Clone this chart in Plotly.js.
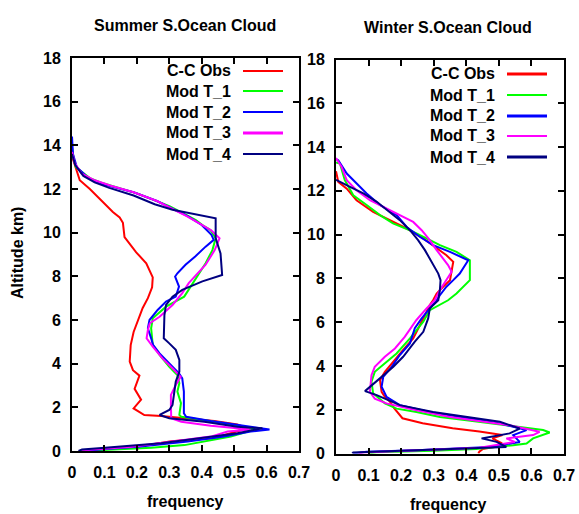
<!DOCTYPE html>
<html>
<head>
<meta charset="utf-8">
<script src="https://cdn.plot.ly/plotly-3.0.1.min.js"></script>
<style>html,body{margin:0;padding:0;background:#fff;}#chart{width:579px;height:514px;}</style>
</head>
<body>
<div id="chart"></div>
<script>
// ---------- DATA ----------
const seriesNames = ["C-C Obs", "Mod T_1", "Mod T_2", "Mod T_3", "Mod T_4"];
const seriesColors = ["#ff0000", "#00ff00", "#0000ff", "#ff00ff", "#000080"];
const panelTitles = ["Summer S.Ocean Cloud", "Winter S.Ocean Cloud"];
const xTickVals = [0, 0.1, 0.2, 0.3, 0.4, 0.5, 0.6, 0.7];
const xTickText = ["0", "0.1", "0.2", "0.3", "0.4", "0.5", "0.6", "0.7"];
const yTickVals = [0, 2, 4, 6, 8, 10, 12, 14, 16, 18];
const yTickText = ["0", "2", "4", "6", "8", "10", "12", "14", "16", "18"];
const xTitle = "frequency";
const yTitle = "Altitude km)";

// Summer (left panel)
const summerObsAlt  = [13.5,12.9,12.4,12.0,11.4,10.95,10.7,10.45,9.8,9.6,9.1,8.6,8.15,7.95,7.5,7.0,6.55,6.0,5.45,4.85,4.1,3.7,3.45,2.85,2.35,1.95,1.65,1.6,1.37,1.22,1.04,0.6,0.45,0.2,0];
const summerObsFreq = [0.0,0.014,0.024,0.055,0.096,0.126,0.147,0.157,0.162,0.172,0.198,0.229,0.244,0.249,0.247,0.234,0.218,0.203,0.19,0.181,0.178,0.188,0.208,0.193,0.213,0.19,0.223,0.275,0.439,0.51,0.541,0.439,0.306,0.204,0.2];

const summerT1Alt  = [13.9,13.4,13.0,12.5,12.26,12.03,11.8,11.5,11.2,10.81,10.58,10.35,10.12,9.74,9.2,8.6,8.0,7.53,7.07,6.61,6.08,5.62,4.86,4.4,3.86,3.48,3.1,2.72,2.19,1.65,1.57,1.27,1.0,0.66,0.27,0.15,0.07,0];
const summerT1Freq = [0.0,0.005,0.012,0.055,0.096,0.147,0.2,0.252,0.302,0.352,0.382,0.402,0.427,0.443,0.433,0.412,0.387,0.366,0.346,0.29,0.249,0.244,0.249,0.27,0.3,0.325,0.331,0.325,0.336,0.331,0.337,0.469,0.566,0.49,0.347,0.245,0.112,0.03];

const summerT2Alt  = [14.4,13.6,13.0,12.5,12.2,11.85,11.45,11.05,10.75,10.35,9.9,9.67,9.36,8.91,8.53,8.14,7.99,7.53,7.07,6.84,6.46,6.0,5.62,5.16,4.86,4.47,4.01,3.56,3.33,2.72,1.73,1.57,1.37,1.19,0.99,0.89,0.66,0.43,0.2,0.09,0];
const summerT2Freq = [0.0,0.003,0.015,0.05,0.1,0.19,0.262,0.318,0.358,0.40,0.43,0.437,0.412,0.38,0.35,0.325,0.318,0.33,0.32,0.29,0.264,0.239,0.234,0.244,0.25,0.27,0.3,0.33,0.34,0.345,0.345,0.352,0.428,0.51,0.609,0.551,0.469,0.357,0.204,0.102,0.036];

const summerT3Alt  = [13.7,13.2,12.7,12.4,12.15,11.85,11.45,11.1,10.75,10.45,10.1,9.74,9.2,8.53,8.07,7.69,7.23,6.69,6.15,5.85,5.54,5.16,4.78,4.24,3.79,3.4,3.02,2.57,2.11,1.8,1.5,1.34,1.16,0.99,0.89,0.66,0.43,0.2,0.05,0];
const summerT3Freq = [0.0,0.008,0.03,0.07,0.12,0.19,0.262,0.31,0.355,0.39,0.43,0.455,0.44,0.412,0.382,0.36,0.34,0.31,0.27,0.24,0.234,0.23,0.249,0.279,0.31,0.335,0.32,0.305,0.305,0.305,0.306,0.337,0.428,0.551,0.48,0.428,0.306,0.184,0.041,0.03];

const summerT4Alt  = [13.6,13.1,12.6,12.3,12.05,11.7,11.3,11.05,10.66,9.75,9.05,8.06,7.77,7.38,7.07,6.69,6.23,5.16,4.93,4.63,4.17,3.63,3.18,2.57,2.11,1.88,1.65,1.5,1.34,1.11,1.04,0.81,0.58,0.35,0.15,0.07,0];
const summerT4Freq = [0.0,0.01,0.035,0.07,0.115,0.19,0.255,0.31,0.443,0.443,0.458,0.463,0.402,0.34,0.31,0.29,0.285,0.283,0.3,0.32,0.331,0.331,0.32,0.315,0.31,0.3,0.27,0.3,0.408,0.51,0.587,0.51,0.388,0.275,0.102,0.031,0.02];

// Winter (right panel)
const winterObsAlt  = [12.9,12.41,12.1,11.57,11.04,10.66,10.28,9.83,9.52,9.06,8.76,8.3,7.92,7.62,7.31,7.0,6.78,6.17,5.26,4.73,4.19,3.73,3.35,2.82,2.59,2.36,2.06,1.61,1.38,1.15,1.0,0.84,0.69,0.46,0.31,0.2,0.08,0];
const winterObsFreq = [0.0,0.007,0.033,0.063,0.114,0.165,0.217,0.268,0.298,0.339,0.36,0.355,0.35,0.329,0.309,0.298,0.288,0.268,0.237,0.206,0.176,0.15,0.135,0.14,0.15,0.166,0.179,0.204,0.266,0.358,0.44,0.511,0.48,0.51,0.49,0.45,0.44,0.437];

const winterT1Alt  = [13.3,13.25,12.49,11.8,11.35,10.89,10.51,10.2,9.83,9.52,9.21,8.83,7.92,7.62,7.31,7.0,6.55,6.02,5.26,4.57,4.12,3.73,3.28,2.75,2.29,2.05,1.9,1.67,1.52,1.37,1.22,1.07,0.96,0.84,0.69,0.46,0.38,0.2,0.12,0.06,0];
const winterT1Freq = [0.0,0.012,0.027,0.053,0.094,0.135,0.175,0.227,0.278,0.319,0.37,0.411,0.411,0.39,0.37,0.344,0.288,0.268,0.227,0.186,0.15,0.119,0.109,0.114,0.15,0.186,0.247,0.319,0.401,0.482,0.564,0.636,0.656,0.636,0.605,0.585,0.544,0.431,0.298,0.125,0.1];

const winterT2Alt  = [13.45,13.4,12.79,12.34,11.88,11.35,10.89,10.35,9.9,9.52,9.21,8.83,8.22,7.92,7.62,7.23,7.0,6.63,6.17,5.72,5.03,4.5,3.96,3.5,3.05,2.59,2.21,1.9,1.63,1.37,1.07,0.84,0.53,0.3,0.15,0.08,0];
const winterT2Freq = [0.0,0.007,0.033,0.063,0.094,0.135,0.186,0.217,0.257,0.298,0.35,0.406,0.38,0.36,0.339,0.319,0.309,0.288,0.263,0.242,0.227,0.196,0.171,0.145,0.14,0.155,0.196,0.288,0.401,0.503,0.585,0.544,0.564,0.472,0.247,0.094,0.053];

const winterT3Alt  = [13.5,13.1,12.49,12.03,11.57,11.19,10.89,10.58,10.2,9.75,9.29,8.91,8.61,8.3,7.92,7.47,7.0,6.63,6.1,5.33,4.8,4.42,3.96,3.58,2.82,2.51,2.29,1.98,1.67,1.45,1.29,0.99,0.84,0.69,0.53,0.26,0.12,0.04,0];
const winterT3Freq = [0.0,0.017,0.033,0.063,0.104,0.155,0.196,0.237,0.263,0.288,0.309,0.329,0.344,0.355,0.339,0.319,0.303,0.278,0.247,0.211,0.181,0.15,0.119,0.109,0.104,0.119,0.155,0.247,0.35,0.452,0.533,0.625,0.605,0.523,0.549,0.441,0.196,0.084,0.07];

const winterT4Alt  = [12.5,12.49,12.18,11.88,11.5,11.04,10.66,10.2,9.75,9.29,8.76,8.22,7.92,7.47,7.0,6.63,6.17,5.56,5.11,4.42,3.96,3.43,3.13,2.85,2.67,2.44,2.21,1.9,1.67,1.45,1.14,0.92,0.69,0.53,0.3,0.1,0.05,0];
const winterT4Freq = [0.0,0.002,0.043,0.084,0.125,0.165,0.196,0.227,0.252,0.273,0.293,0.314,0.321,0.319,0.314,0.288,0.283,0.268,0.242,0.206,0.176,0.135,0.114,0.089,0.125,0.16,0.196,0.298,0.401,0.503,0.564,0.533,0.447,0.493,0.523,0.094,0.053,0.05];

// ---------- BUILD ----------
const W = 579, H = 514;
const px = v => v / W;
const py = v => 1 - v / H;

const summerSeries = [
  [summerObsFreq, summerObsAlt], [summerT1Freq, summerT1Alt], [summerT2Freq, summerT2Alt],
  [summerT3Freq, summerT3Alt], [summerT4Freq, summerT4Alt]
];
const winterSeries = [
  [winterObsFreq, winterObsAlt], [winterT1Freq, winterT1Alt], [winterT2Freq, winterT2Alt],
  [winterT3Freq, winterT3Alt], [winterT4Freq, winterT4Alt]
];

const traces = [];
// draw order: models first then obs? keep obs drawn below models like reference
[summerSeries, winterSeries].forEach((set, p) => {
  set.forEach((s, i) => {
    traces.push({
      x: s[0], y: s[1], type: 'scatter', mode: 'lines',
      name: seriesNames[i], showlegend: false,
      line: {color: seriesColors[i], width: 2},
      xaxis: p === 0 ? 'x' : 'x2', yaxis: p === 0 ? 'y' : 'y2'
    });
  });
});

const font = {family: 'Liberation Sans, Arial, sans-serif', size: 16, color: '#000', weight: 700};

function axisX(domain) {
  return {
    domain: domain, range: [0, 0.7], tickvals: xTickVals, ticktext: xTickText,
    showline: true, linecolor: '#000', linewidth: 2, mirror: 'ticks',
    ticks: 'inside', ticklen: 6, tickwidth: 2, tickcolor: '#000',
    showgrid: false, zeroline: false, tickfont: font, ticklabelstandoff: 6, fixedrange: true
  };
}
function axisY(domain) {
  return {
    domain: domain, range: [0, 18], tickvals: yTickVals, ticktext: yTickText,
    showline: true, linecolor: '#000', linewidth: 2, mirror: 'ticks',
    ticks: 'inside', ticklen: 6, tickwidth: 2, tickcolor: '#000',
    showgrid: false, zeroline: false, tickfont: font, ticklabelstandoff: 6, fixedrange: true
  };
}

const annotations = [];
const shapes = [];
// titles
annotations.push({text: panelTitles[0], x: px(185), y: py(25), xref: 'paper', yref: 'paper', xanchor: 'center', yanchor: 'middle', showarrow: false, font: font});
annotations.push({text: panelTitles[1], x: px(448), y: py(27), xref: 'paper', yref: 'paper', xanchor: 'center', yanchor: 'middle', showarrow: false, font: font});
// axis titles
annotations.push({text: xTitle, x: px(185), y: py(501), xref: 'paper', yref: 'paper', xanchor: 'center', yanchor: 'middle', showarrow: false, font: font});
annotations.push({text: xTitle, x: px(448), y: py(504), xref: 'paper', yref: 'paper', xanchor: 'center', yanchor: 'middle', showarrow: false, font: font});
annotations.push({text: yTitle, x: px(17), y: py(253), xref: 'paper', yref: 'paper', xanchor: 'center', yanchor: 'middle', textangle: -90, showarrow: false, font: font});

// legends (text to the left of a line sample)
const legendPanels = [
  {textRight: 233, lineX0: 243, lineX1: 283, rows: [71, 91, 112, 133, 154], widths: [2, 2, 2, 3, 2]},
  {textRight: 497, lineX0: 507, lineX1: 547, rows: [74, 95, 116, 136, 157], widths: [3, 2, 3, 2, 3]}
];
legendPanels.forEach(lp => {
  seriesNames.forEach((nm, i) => {
    annotations.push({text: nm, x: px(lp.textRight), y: py(lp.rows[i]), xref: 'paper', yref: 'paper', xanchor: 'right', yanchor: 'middle', showarrow: false, font: font});
    shapes.push({type: 'line', xref: 'paper', yref: 'paper', x0: px(lp.lineX0), x1: px(lp.lineX1), y0: py(lp.rows[i]), y1: py(lp.rows[i]), line: {color: seriesColors[i], width: lp.widths[i]}});
  });
});

const layout = {
  width: W, height: H, margin: {l: 0, r: 0, t: 0, b: 0},
  paper_bgcolor: '#fff', plot_bgcolor: '#fff', showlegend: false,
  font: font,
  xaxis: axisX([px(72), px(299)]),
  yaxis: axisY([py(451), py(58)]),
  xaxis2: axisX([px(336), px(564)]),
  yaxis2: axisY([py(453.5), py(59.5)]),
  annotations: annotations, shapes: shapes
};
layout.yaxis2.anchor = 'x2';
layout.xaxis2.anchor = 'y2';

Plotly.newPlot('chart', traces, layout, {staticPlot: true, displayModeBar: false});
</script>
</body>
</html>
